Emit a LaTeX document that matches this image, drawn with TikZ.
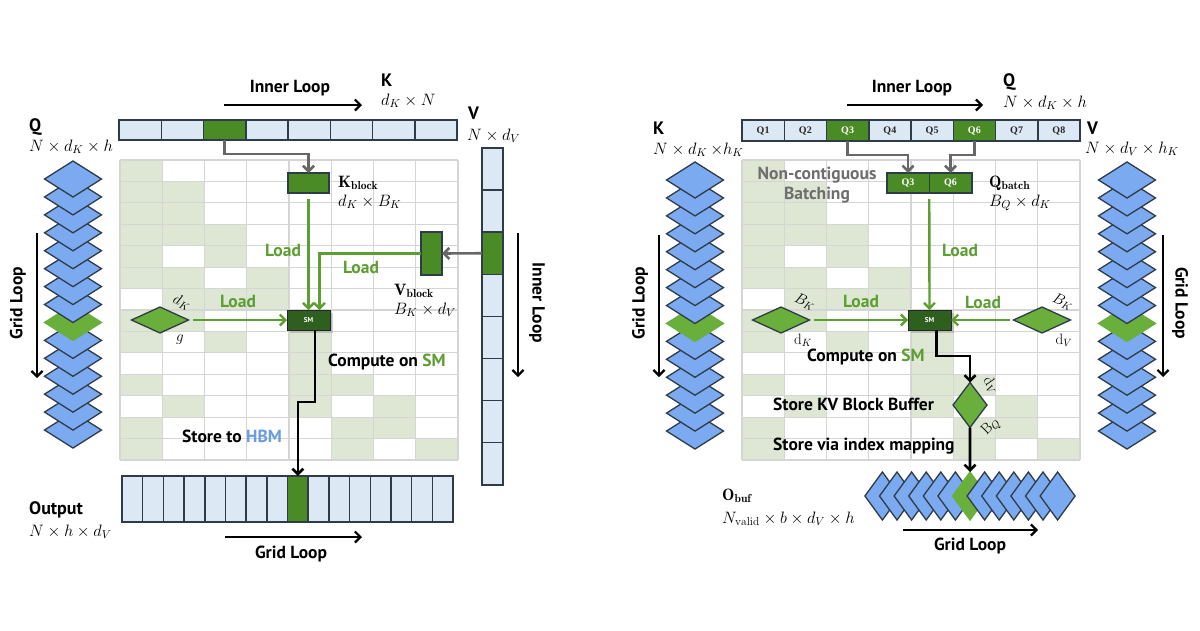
\RequirePackage{fix-cm}
\documentclass[tikz,border=0pt]{standalone}
\usepackage{fontspec}
\setsansfont{PT Sans}
\newfontfamily\qfont{Liberation Serif}
\usetikzlibrary{arrows.meta,shapes.geometric,shadows}

\definecolor{seglight}{HTML}{DDE8F5}
\definecolor{segline}{HTML}{2E3B48}
\definecolor{kgreen}{HTML}{4B8B26}
\definecolor{smgreen}{HTML}{2F5F1F}
\definecolor{dgreen}{HTML}{6AAE3C}
\definecolor{dblue}{RGB}{124,170,240}
\definecolor{loadgreen}{HTML}{5C9E31}
\definecolor{cellgreen}{HTML}{DDE7D3}
\definecolor{gridgray}{HTML}{D5D5D5}
\definecolor{arrowgray}{HTML}{676767}
\definecolor{hbmblue}{HTML}{6B9BE0}
\definecolor{batchgray}{HTML}{6E6E6E}

\newcommand\lbfont{\fontsize{17.5}{20}\selectfont\sffamily\bfseries}
\newcommand\hdfont{\fontsize{18}{20}\selectfont\sffamily\bfseries}
\newcommand\mfont{\fontsize{16.5}{19}\selectfont}
\newcommand\rfont{\fontsize{15}{17}\selectfont}

\newcommand\mygrid[1]{%
  \foreach \r/\c in {0/0,1/0,1/1,2/0,2/1,3/0,3/1,3/2,4/0,4/2,5/0,5/1,5/3,6/1,6/2,6/3,7/0,7/1,7/4,8/0,8/2,8/4,9/4,10/0,10/4,10/5,11/1,11/4,11/6,12/0,12/5,12/6,13/0,13/5,13/7}
    {\fill[cellgreen] (#1+\c*42.25,160+\r*21.43) rectangle ++(42.25,21.43);}
  \foreach \c in {0,...,8} {\draw[gridline] (#1+\c*42.25,160) -- ++(0,300);}
  \foreach \r in {0,...,14} {\draw[gridline] (#1,160+\r*21.43) -- ++(338,0);}
}

\begin{document}
\begin{tikzpicture}[x=1pt,y=-1pt,
  gridline/.style={draw=gridgray,line width=1.1pt},
  seg/.style={draw=segline,fill=seglight,line width=1.5pt,minimum width=42.25pt,minimum height=20pt,inner sep=0pt,outer sep=0pt},
  vseg/.style={seg,minimum width=21pt,minimum height=42.1pt},
  oseg/.style={seg,minimum width=20.69pt,minimum height=46pt},
  blockbox/.style={draw=segline,fill=kgreen,line width=1.5pt,inner sep=0pt,outer sep=0pt},
  smbox/.style={draw=black!85,fill=smgreen,line width=1pt,minimum width=43pt,minimum height=20pt,inner sep=0pt,outer sep=0pt,text=white,font={\fontsize{7}{8}\selectfont\sffamily\bfseries},drop shadow={opacity=0.35,shadow xshift=2.5pt,shadow yshift=-2.5pt}},
  ldia/.style={diamond,draw=segline,fill=dgreen,line width=1.3pt,inner sep=0pt,outer sep=0pt,minimum width=57pt,minimum height=26pt},
  bdia/.style={diamond,draw=segline,fill=dblue,line width=1.3pt,inner sep=0pt,outer sep=0pt,minimum width=57pt,minimum height=36pt},
  gdia/.style={bdia,fill=dgreen,draw=dgreen},
  odia/.style={diamond,draw=segline,fill=dblue,line width=1.3pt,inner sep=0pt,outer sep=0pt,minimum width=35pt,minimum height=48pt},
  godia/.style={odia,fill=dgreen,draw=dgreen},
  tip/.style={-{Straight Barb[length=5.5pt,width=11pt]}},
  load/.style={draw=loadgreen,line width=2.4pt,tip},
  garrow/.style={draw=arrowgray,line width=2.6pt,tip},
  barrow/.style={draw=black,line width=2.6pt,tip},
  looparrow/.style={draw=black,line width=2.2pt,tip},
  txt/.style={inner sep=0pt,anchor=west},
  ctxt/.style={inner sep=0pt},
  lbl/.style={inner sep=0pt,font=\lbfont},
  loadlbl/.style={inner sep=0pt,font=\lbfont,text=loadgreen}
]
\fill[white] (0,0) rectangle (1200,630);
\useasboundingbox (0,0) rectangle (1200,630);

% ================= LEFT =================
\mygrid{120}

% K bar
\foreach \i in {0,...,7}{
  \ifnum\i=2 \node[seg,fill=kgreen] (k\i) at (119+42.25*\i+21.125,130) {};
  \else \node[seg] (k\i) at (119+42.25*\i+21.125,130) {}; \fi}
\node[lbl] (t1) at (290,88) {Inner Loop};
\coordinate (ila) at (224,105); \coordinate (ilb) at (362,105);
\draw[looparrow] (ila) -- (ilb);
\node[txt,font=\hdfont] (t2) at (381,80) {K};
\node[txt,font=\mfont] (t3) at (381,101) {$d_K\times N$};
\node[txt,font=\hdfont] (t4) at (468,113) {V};
\node[txt,font=\mfont] (t5) at (467,136) {$N\times d_V$};

% V column
\foreach \i in {0,...,7}{
  \ifnum\i=2 \node[vseg,fill=kgreen] (v\i) at (492.5,148+42.1*\i+21.05) {};
  \else \node[vseg] (v\i) at (492.5,148+42.1*\i+21.05) {}; \fi}
\node[lbl,rotate=-90] (t6) at (537,303) {Inner Loop};
\coordinate (vla) at (518,233); \coordinate (vlb) at (518,377);
\draw[looparrow] (vla) -- (vlb);

% blocks
\node[blockbox,minimum width=41pt,minimum height=20pt] (kb) at (308.5,183) {};
\node[txt,font=\mfont] (t7) at (338,183) {$\mathbf{K}_{\mathbf{block}}$};
\node[txt,font=\mfont] (t8) at (338,202) {$d_K\times B_K$};
\node[blockbox,minimum width=21pt,minimum height=43pt] (vb) at (431.5,253.5) {};
\node[txt,font=\mfont] (t9) at (394,291) {$\mathbf{V}_{\mathbf{block}}$};
\node[txt,font=\mfont] (t10) at (394,310) {$B_K\times d_V$};

\draw[garrow] (k2.south) -- ++(0,14) -| (kb.north);
\draw[garrow] (v2.west) -- (vb.east);

% SM
\node[smbox] (sm1) at (308.5,320) {SM};
\node[ldia] (d1) at (160,320) {};
\node[ctxt,font=\rfont,rotate=-24] (t11) at (182,302) {$d_K$};
\node[ctxt,font=\rfont] (t12) at (180,340) {$g$};

\draw[load,shorten <=6pt] (kb.south) -- (sm1.north);
\draw[load] (vb.west) -| ([xshift=11pt]sm1.north);
\draw[load,shorten <=4pt] (d1.east) -- (sm1.west);
\node[loadlbl] (t13) at (283,250) {Load};
\node[loadlbl] (t14) at (361,267) {Load};
\node[loadlbl] (t15) at (238,301) {Load};

\node[txt,font=\lbfont] (t16) at (328,362) {Compute on \textcolor{loadgreen}{SM}};
\node[txt,font=\lbfont] (t17) at (182,436) {Store to \textcolor{hbmblue}{HBM}};

% Output bar
\foreach \i in {0,...,15}{
  \ifnum\i=8 \node[oseg,fill=kgreen] (o\i) at (122+20.69*\i+10.345,499) {};
  \else \node[oseg] (o\i) at (122+20.69*\i+10.345,499) {}; \fi}
\draw[barrow] ([xshift=6.5pt]sm1.south) -- ++(0,72) -| (o8.north);
\node[txt,font=\hdfont] (t18) at (29,510) {Output};
\node[txt,font=\mfont] (t19) at (29,532) {$N\times h\times d_V$};
\coordinate (gla) at (225,537); \coordinate (glb) at (362,537);
\draw[looparrow] (gla) -- (glb);
\node[lbl] (t20) at (291,554) {Grid Loop};

% Q stack
\node[txt,font=\hdfont] (t21) at (29,127) {Q};
\node[txt,font=\mfont] (t22) at (29,147) {$N\times d_K\times h$};
\foreach \i in {14,13,...,0}{
  \ifnum\i=8 \node[gdia] (qs\i) at (73,179+17.93*\i) {};
  \else \node[bdia] (qs\i) at (73,179+17.93*\i) {}; \fi}
\node[lbl,rotate=90] (t23) at (18,303) {Grid Loop};
\coordinate (qla) at (37,233); \coordinate (qlb) at (37,378);
\draw[looparrow] (qla) -- (qlb);

% ================= RIGHT =================
\mygrid{742}

\foreach \i [evaluate=\i as \n using int(\i+1)] in {0,...,7}{
  \ifnum\i=2 \node[seg,fill=kgreen,minimum height=21pt,text=white,font={\qfont\bfseries\fontsize{10}{12}\selectfont}] (q\i) at (742+42.25*\i+21.125,130.5) {Q\n};
  \else\ifnum\i=5 \node[seg,fill=kgreen,minimum height=21pt,text=white,font={\qfont\bfseries\fontsize{10}{12}\selectfont}] (q\i) at (742+42.25*\i+21.125,130.5) {Q\n};
  \else \node[seg,minimum height=21pt,text=black!85,font={\qfont\bfseries\fontsize{10}{12}\selectfont}] (q\i) at (742+42.25*\i+21.125,130.5) {Q\n}; \fi\fi}
\node[lbl] (r1) at (912,88) {Inner Loop};
\coordinate (rila) at (847,105); \coordinate (rilb) at (983,105);
\draw[looparrow] (rila) -- (rilb);
\node[txt,font=\hdfont] (r2) at (1003,82) {Q};
\node[txt,font=\mfont] (r3) at (1003,103) {$N\times d_K\times h$};
\node[txt,font=\hdfont] (r4) at (1087,128) {V};
\node[txt,font=\mfont] (r5) at (1085,149) {$N\times d_V\times h_K$};
\node[txt,font=\hdfont] (r6) at (653,128) {K};
\node[txt,font=\mfont] (r7) at (653,150) {$N\times d_K\,{\times}h_K$};

% stacks
\foreach \i in {14,13,...,0}{
  \ifnum\i=8 \node[gdia] (ks\i) at (695,180+17.93*\i) {};
  \else \node[bdia] (ks\i) at (695,180+17.93*\i) {}; \fi}
\foreach \i in {14,13,...,0}{
  \ifnum\i=8 \node[gdia] (vs\i) at (1127,180+17.93*\i) {};
  \else \node[bdia] (vs\i) at (1127,180+17.93*\i) {}; \fi}
\node[lbl,rotate=90] (r8) at (640,303) {Grid Loop};
\coordinate (kla) at (659,235); \coordinate (klb) at (659,377);
\draw[looparrow] (kla) -- (klb);
\node[lbl,rotate=-90] (r9) at (1180,303) {Grid Loop};
\coordinate (vsla) at (1163,235); \coordinate (vslb) at (1163,377);
\draw[looparrow] (vsla) -- (vslb);

% Q batch
\node[seg,fill=kgreen,minimum width=42.5pt,text=white,font={\qfont\bfseries\fontsize{10}{12}\selectfont}] (qb3) at (908,183) {Q3};
\node[seg,fill=kgreen,minimum width=42.5pt,text=white,font={\qfont\bfseries\fontsize{10}{12}\selectfont}] (qb6) at (950.5,183) {Q6};
\draw[garrow] (q2.south) -- ++(0,14) -| (qb3.north);
\draw[garrow] (q5.south) -- ++(0,14) -| (qb6.north);
\node[ctxt,font=\lbfont,text=batchgray] (r10) at (817,175) {Non-contiguous};
\node[ctxt,font=\lbfont,text=batchgray] (r11) at (817,195) {Batching};
\node[txt,font=\mfont] (r12) at (989,183) {$\mathbf{Q}_{\mathbf{batch}}$};
\node[txt,font=\mfont] (r13) at (989,203) {$B_Q\times d_K$};

\node[smbox] (sm2) at (929.5,320) {SM};
\node[ldia] (d2) at (781,320) {};
\node[ldia] (d3) at (1042,320) {};
\node[ctxt,font=\rfont,rotate=-24] (r14) at (805,302) {$B_K$};
\node[ctxt,font=\rfont] (r15) at (803,340) {$\mathrm{d}_K$};
\node[ctxt,font=\rfont,rotate=-24] (r16) at (1063,302) {$B_K$};
\node[ctxt,font=\rfont] (r17) at (1064,340) {$\mathrm{d}_V$};

\draw[load,shorten <=6pt] (qb3.south east) -- (sm2.north);
\draw[load,shorten <=4pt] (d2.east) -- (sm2.west);
\draw[load,shorten <=4pt] (d3.west) -- (sm2.east);
\node[loadlbl] (r18) at (960,250) {Load};
\node[loadlbl] (r19) at (861,301) {Load};
\node[loadlbl] (r20) at (983,302) {Load};

\node[txt,font=\lbfont] (r21) at (807,357) {Compute on \textcolor{loadgreen}{SM}};
\node[ldia,minimum width=34pt,minimum height=45pt] (d4) at (970,405) {};
\node[ctxt,font=\rfont,rotate=-55] (r22) at (991,385) {$\mathrm{d}_V$};
\node[ctxt,font=\rfont,rotate=45] (r23) at (991,427) {$\mathrm{B}_Q$};
\draw[barrow] ([xshift=7pt]sm2.south) -- ++(0,26) -| (d4.north);
\node[txt,font=\lbfont] (r24) at (773,404) {Store KV Block Buffer};
\node[txt,font=\lbfont] (r25) at (773,446) {Store via index mapping};

% O_buf
\foreach \i in {0,...,12}{
  \ifnum\i=6 \node[godia] (ob\i) at (970+14.6*\i-87.6,496) {};
  \else \node[odia] (ob\i) at (970+14.6*\i-87.6,496) {}; \fi}
\draw[barrow] (d4.south) -- (ob6.north);
\node[txt,font=\mfont] (r26) at (722,496) {$\mathbf{O}_{\mathbf{buf}}$};
\node[txt,font=\mfont] (r27) at (722,519) {$N_{\mathrm{valid}}\times b\times d_V\times h$};
\coordinate (ola) at (903,530); \coordinate (olb) at (1038,530);
\draw[looparrow] (ola) -- (olb);
\node[lbl] (r28) at (970,546) {Grid Loop};
\end{tikzpicture}
\end{document}
